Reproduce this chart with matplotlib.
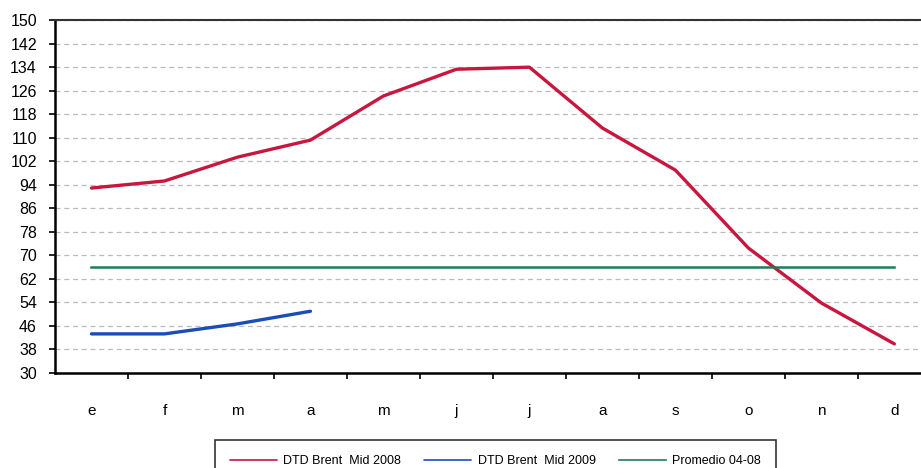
import numpy as np
import matplotlib.pyplot as plt

# Monthly values
months = ['e', 'f', 'm', 'a', 'm', 'j', 'j', 'a', 's', 'o', 'n', 'd']
brent_2008 = [92.9, 95.3, 103.4, 109.2, 124.2, 133.3, 134.0, 113.3, 99.0, 72.5, 53.8, 39.9]
brent_2009 = [43.3, 43.3, 46.7, 51.0]
promedio = 66.1

plt.rcParams['font.family'] = ['Liberation Sans', 'DejaVu Sans']

fig = plt.figure(figsize=(9.21, 4.68), dpi=100)
ax = fig.add_axes([0.0597, 0.203, 0.951, 0.754])

x = np.arange(len(months))
ax.plot(x, brent_2008, color='#C8163F', lw=2.4, label='DTD Brent  Mid 2008', solid_capstyle='round')
ax.plot(x[:len(brent_2009)], brent_2009, color='#1A4DB8', lw=2.4, label='DTD Brent  Mid 2009', solid_capstyle='round')
ax.plot(x, [promedio] * len(x), color='#25795A', lw=1.8, label='Promedio 04-08')

ax.set_ylim(30, 150)
ax.set_yticks(np.arange(30, 151, 8))
ax.set_xlim(-0.5, len(months) - 0.5)
ax.set_xticks(x)
ax.set_xticklabels(months)
ax.set_xticks(np.arange(0.5, len(months) - 0.5, 1), minor=True)
ax.tick_params(axis='x', which='major', length=0, pad=22, labelsize=11)
ax.tick_params(axis='x', which='minor', length=4, width=1.2, direction='out')
ax.tick_params(axis='y', length=4, width=1.2, labelsize=11.5, pad=9)

ax.grid(axis='y', color='#BBBBBB', linestyle=(0, (4, 3)), linewidth=0.9)
ax.set_axisbelow(True)
for side in ['left', 'bottom']:
    ax.spines[side].set_linewidth(1.8)
ax.spines['top'].set_linewidth(1.5)
ax.spines['top'].set_color('#333333')

leg = fig.legend(loc='upper center', bbox_to_anchor=(0.538, 0.0598), ncol=3,
                 frameon=True, fancybox=False, edgecolor='black', fontsize=9,
                 handlelength=3.75, handletextpad=0.5, columnspacing=1.9,
                 borderpad=1.2, borderaxespad=0)
leg.get_frame().set_linewidth(1.2)
for line in leg.get_lines():
    line.set_linewidth(1.2)

fig.savefig('out.png', dpi=100)
